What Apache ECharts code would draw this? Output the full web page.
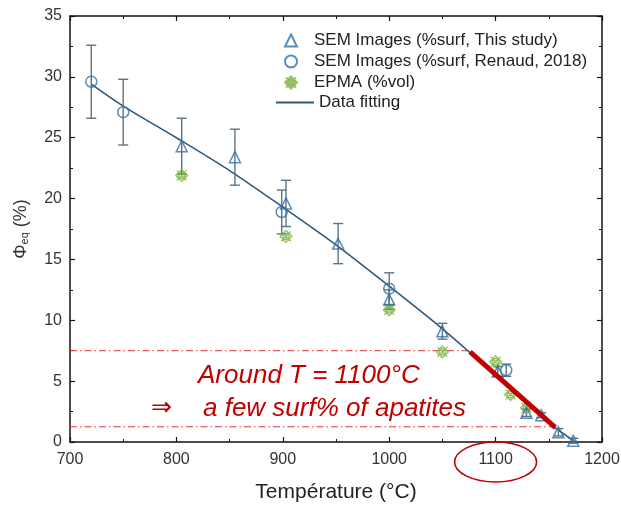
<!DOCTYPE html>
<html>
<head>
<meta charset="utf-8">
<script src="https://cdn.jsdelivr.net/npm/echarts@6/dist/echarts.min.js"></script>
<style>
  html, body { margin: 0; padding: 0; background: #fff; }
  #chart { width: 621px; height: 505px; }
</style>
</head>
<body>
<div id="chart"></div>
<script>
// SEM images, %surf, this study: temperature, value, error half-width
const semStudyT   = [805, 855, 903, 952, 1000, 1050, 1102, 1129, 1143, 1159, 1173];
const semStudyPhi = [24.3, 23.4, 19.6, 16.3, 11.7, 9.1, 5.8, 2.4, 2.2, 0.8, 0.1];
const semStudyErr = [2.3, 2.3, 1.9, 1.65, 0.8, 0.65, 0.4, 0.3, 0.2, 0.3, 0.2];

// SEM images, %surf, Renaud 2018
const semRenaudT   = [720, 750, 899, 1000, 1110];
const semRenaudPhi = [29.6, 27.1, 18.9, 12.6, 5.9];
const semRenaudErr = [3.0, 2.7, 1.8, 1.3, 0.5];

// EPMA, %vol
const epmaT   = [805, 903, 1000, 1050, 1100, 1114, 1129];
const epmaPhi = [21.9, 16.9, 10.85, 7.4, 6.6, 3.9, 2.8];

// Fitted curve
const fitT   = [720, 750, 800, 850, 900, 950, 1000, 1050, 1100, 1150, 1175];
const fitPhi = [29.4, 27.6, 25.0, 22.3, 19.3, 16.2, 12.8, 9.3, 5.5, 1.6, 0];

// Highlighted segment and reference levels
const highlightT   = [1076, 1156];
const highlightPhi = [7.4, 1.2];
const upperLevel = 7.5, upperEndT = 1076;
const lowerLevel = 1.25, lowerEndT = 1156;

const xTicks = [700, 800, 900, 1000, 1100, 1200];
const yMax = 35;

const BLUE = '#2f6fa6';
const GREEN = '#7bb241';
const RED = '#c00000';
const ERR = '#5d7384';
const FONT = 'Liberation Sans, Arial, sans-serif';

const zip = (a, b, c) => a.map((v, i) => c ? [v, b[i], c[i]] : [v, b[i]]);

// Cross-hatched marker for EPMA points
const EPMA_SYMBOL = 'path://M1,1L11,11M11,1L1,11M6,0L12,6L6,12L0,6ZM3,3L9,3L9,9L3,9Z';

function errorBars() {
  return function (params, api) {
    const x = api.value(0), y = api.value(1), e = api.value(2);
    const top = api.coord([x, y + e]);
    const bot = api.coord([x, y - e]);
    const w = 5;
    const style = { stroke: ERR, lineWidth: 1.4, fill: null };
    return {
      type: 'group',
      children: [
        { type: 'line', shape: { x1: top[0], y1: top[1], x2: bot[0], y2: bot[1] }, style },
        { type: 'line', shape: { x1: top[0] - w, y1: top[1], x2: top[0] + w, y2: top[1] }, style },
        { type: 'line', shape: { x1: bot[0] - w, y1: bot[1], x2: bot[0] + w, y2: bot[1] }, style }
      ]
    };
  };
}

const axisCommon = {
  axisLine: { show: true, onZero: false, lineStyle: { color: '#111', width: 1.5 } },
  axisTick: { show: true, inside: true, length: 5, lineStyle: { color: '#111', width: 1.2 } },
  minorTick: { show: true, splitNumber: 2, length: 3, lineStyle: { color: '#111', width: 1 } },
  splitLine: { show: false }
};

const chart = echarts.init(document.getElementById('chart'), null, { renderer: 'canvas' });

const option = {
  backgroundColor: '#fff',
  animation: false,
  grid: { left: 70, right: 19, top: 16, bottom: 63, containLabel: false, outerBoundsMode: 'none' },
  legend: [
    {
      orient: 'vertical', left: 279, top: 27,
      itemWidth: 12, itemHeight: 12, itemGap: 4,
      textStyle: { fontFamily: FONT, fontSize: 17, color: '#222', lineHeight: 17, padding: [0, 0, 0, 12] },
      data: [
        { name: 'SEM Images (%surf, This study)', icon: 'triangle' },
        { name: 'SEM Images (%surf, Renaud, 2018)', icon: 'circle' },
        { name: 'EPMA (%vol)', icon: EPMA_SYMBOL }
      ]
    },
    {
      orient: 'vertical', left: 271, top: 89,
      itemWidth: 38, itemHeight: 2,
      textStyle: { fontFamily: FONT, fontSize: 17, color: '#222', lineHeight: 17 },
      data: [{ name: 'Data fitting', icon: 'rect' }]
    }
  ],
  xAxis: [
    Object.assign({}, axisCommon, {
      type: 'value', min: xTicks[0], max: xTicks[xTicks.length - 1], interval: 100,
      position: 'bottom',
      axisLabel: { fontFamily: FONT, fontSize: 16, color: '#333', margin: 10, formatter: v => String(v) },
      name: 'Température (°C)', nameLocation: 'middle', nameGap: 40,
      nameTextStyle: { fontFamily: FONT, fontSize: 21, color: '#222' }
    }),
    Object.assign({}, axisCommon, {
      type: 'value', min: xTicks[0], max: xTicks[xTicks.length - 1], interval: 100,
      position: 'top', axisLabel: { show: false }
    })
  ],
  yAxis: [
    Object.assign({}, axisCommon, {
      type: 'value', min: 0, max: yMax, interval: 5, position: 'left',
      axisLabel: { fontFamily: FONT, fontSize: 16, color: '#333', margin: 8 },
      name: '{a|Φ}{s|eq}{a| (%)}', nameLocation: 'middle', nameGap: 40, nameRotate: 90,
      nameTextStyle: {
        fontFamily: FONT, color: '#333',
        rich: {
          a: { fontFamily: FONT, fontSize: 18, color: '#333' },
          s: { fontFamily: FONT, fontSize: 11, color: '#333', verticalAlign: 'bottom', padding: [7, 0, 0, 0] }
        }
      }
    }),
    Object.assign({}, axisCommon, {
      type: 'value', min: 0, max: yMax, interval: 5, position: 'right',
      axisLabel: { show: false }
    })
  ],
  series: [
    {
      name: 'Data fitting', type: 'line', data: zip(fitT, fitPhi),
      smooth: 0.3, symbol: 'none', z: 2,
      lineStyle: { color: '#2e587c', width: 1.6 },
      itemStyle: { color: '#2e587c' }
    },
    {
      name: 'upperLevel', type: 'line', data: [[xTicks[0], upperLevel], [upperEndT, upperLevel]],
      symbol: 'none', silent: true, z: 1,
      lineStyle: { color: '#d33', width: 1, type: [7, 3, 1.5, 3] }
    },
    {
      name: 'lowerLevel', type: 'line', data: [[xTicks[0], lowerLevel], [lowerEndT, lowerLevel]],
      symbol: 'none', silent: true, z: 1,
      lineStyle: { color: '#d33', width: 1, type: [7, 3, 1.5, 3] }
    },
    {
      name: 'errStudy', type: 'custom', renderItem: errorBars(),
      data: zip(semStudyT, semStudyPhi, semStudyErr), z: 3, silent: true
    },
    {
      name: 'errRenaud', type: 'custom', renderItem: errorBars(),
      data: zip(semRenaudT, semRenaudPhi, semRenaudErr), z: 3, silent: true
    },
    {
      name: 'EPMA (%vol)', type: 'scatter', data: zip(epmaT, epmaPhi),
      symbol: EPMA_SYMBOL, symbolSize: 12, z: 4,
      itemStyle: { color: 'rgba(123,178,65,0.25)', borderColor: GREEN, borderWidth: 1.2 }
    },
    {
      name: 'SEM Images (%surf, Renaud, 2018)', type: 'scatter', data: zip(semRenaudT, semRenaudPhi),
      symbol: 'circle', symbolSize: 11, z: 5,
      itemStyle: { color: 'rgba(0,0,0,0)', borderColor: BLUE, borderWidth: 1.5 }
    },
    {
      name: 'SEM Images (%surf, This study)', type: 'scatter', data: zip(semStudyT, semStudyPhi),
      symbol: 'triangle', symbolSize: 11, z: 5,
      itemStyle: { color: 'rgba(0,0,0,0)', borderColor: BLUE, borderWidth: 1.5 }
    },
    {
      name: 'highlight', type: 'line', data: zip(highlightT, highlightPhi),
      symbol: 'none', silent: true, z: 6,
      lineStyle: { color: RED, width: 5 }
    }
  ]
};

chart.setOption(option);

// Annotation: text and circled tick label
const p1100 = chart.convertToPixel({ xAxisIndex: 0, yAxisIndex: 0 }, [1100, 0]);
chart.setOption({
  graphic: [
    {
      type: 'text', left: 198, top: 363,
      style: { text: 'Around T = 1100°C', fill: RED, font: 'italic 26px ' + FONT }
    },
    {
      type: 'text', left: 151, top: 396,
      style: { text: '⇒', fill: RED, font: '25px ' + FONT }
    },
    {
      type: 'text', left: 203, top: 396,
      style: { text: 'a few surf% of apatites', fill: RED, font: 'italic 26px ' + FONT }
    },
    {
      type: 'ellipse',
      shape: { cx: p1100[0], cy: p1100[1] + 20, rx: 41, ry: 20 },
      style: { fill: null, stroke: RED, lineWidth: 1.6 },
      z: 10
    }
  ]
});
</script>
</body>
</html>
